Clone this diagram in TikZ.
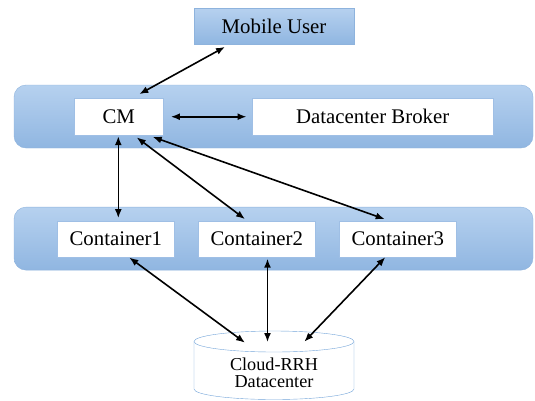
\documentclass[tikz,border=0pt]{standalone}
\usepackage{fontspec}
\setmainfont{Liberation Serif}
\usepackage{tikz}
\usetikzlibrary{arrows.meta}
\definecolor{bandtop}{HTML}{B6D1EF}
\definecolor{bandbot}{HTML}{90B6E1}
\definecolor{bandline}{HTML}{8EB3DD}
\definecolor{boxline}{HTML}{9FBFE5}
\definecolor{cylline}{HTML}{74A5DA}
\tikzset{
  band/.style={draw=bandline,rounded corners=12pt,top color=bandtop,
    bottom color=bandbot,minimum width=519pt,minimum height=63pt},
  wbox/.style={draw=boxline,fill=white,minimum height=36pt,inner sep=0pt},
  ubox/.style={draw=bandline,top color=bandtop,bottom color=bandbot,
    minimum width=160pt,minimum height=36pt,inner sep=0pt},
  rim/.style={start angle=#1,end angle=#1+180,x radius=80pt,y radius=10.5pt},
  link/.style={{Latex[length=9pt,width=7pt]}-{Latex[length=9pt,width=7pt]},
    line width=1.6pt},
}

\begin{document}
\begin{tikzpicture}[x=1pt,y=-1pt,every node/.style={font=\rmfamily\fontsize{20.8}{22}\selectfont}]
\useasboundingbox (0,0) rectangle (535,400);
% the two layers
\node[band] (mgr) at (273.5,116.5) {};
\node[band] (pool) at (273.5,238.6) {};
% user on top
\node[ubox] (mu) at (274,26) {Mobile User};
% manager layer
\node[wbox,minimum width=89pt,minimum height=37pt] (cm) at (118.7,116.7) {CM};
\node[wbox,minimum width=241pt,minimum height=37pt] (db) at (372.7,116.7) {Datacenter Broker};
% container layer
\node[wbox,minimum width=117pt] (c1) at (115.8,238.7) {Container1};
\node[wbox,minimum width=117pt] (c2) at (256.8,238.7) {Container2};
\node[wbox,minimum width=117pt] (c3) at (397.8,238.7) {Container3};
% datacenter store
\coordinate (dcc) at (274,365.5);
\draw[cylline,fill=white] ([xshift=-80pt,yshift=24pt]dcc) -- ([xshift=-80pt,yshift=-23.5pt]dcc)
  arc[rim=180] -- ([xshift=80pt,yshift=24pt]dcc) arc[rim=0] -- cycle;
\draw[cylline] ([xshift=-80pt,yshift=24pt]dcc) arc[rim=180];
\node[align=center,inner sep=0pt,font=\rmfamily\fontsize{18.2}{17}\selectfont]
  (dc) at (274,373) {Cloud-RRH\\Datacenter};
% links
\draw[link] ([xshift=-49pt,yshift=-2.7pt]mu.south) -- ([xshift=20.6pt,yshift=3.9pt]cm.north);
\draw[link] ([xshift=7.5pt]cm.east) -- ([xshift=-5.5pt]db.west);
\draw[link] ([xshift=-0.4pt,yshift=-0.8pt]cm.south) -- ([xshift=2.5pt,yshift=2.4pt]c1.north);
\draw[link] ([xshift=18pt,yshift=-2pt]cm.south) -- ([xshift=-11.8pt,yshift=1.4pt]c2.north);
\draw[link] ([xshift=34pt,yshift=-1.5pt]cm.south) -- ([xshift=-13.1pt,yshift=1.4pt]c3.north);
\draw[link] ([xshift=13.5pt,yshift=-0.6pt]c1.south) -- ([xshift=-29pt,yshift=30.3pt]dc.center);
\draw[link] ([xshift=10.7pt,yshift=-1.8pt]c2.south) -- ([xshift=-6.5pt,yshift=31pt]dc.center);
\draw[link] ([xshift=-12.5pt,yshift=-0.3pt]c3.south) -- ([xshift=30.3pt,yshift=31.3pt]dc.center);
\end{tikzpicture}
\end{document}
